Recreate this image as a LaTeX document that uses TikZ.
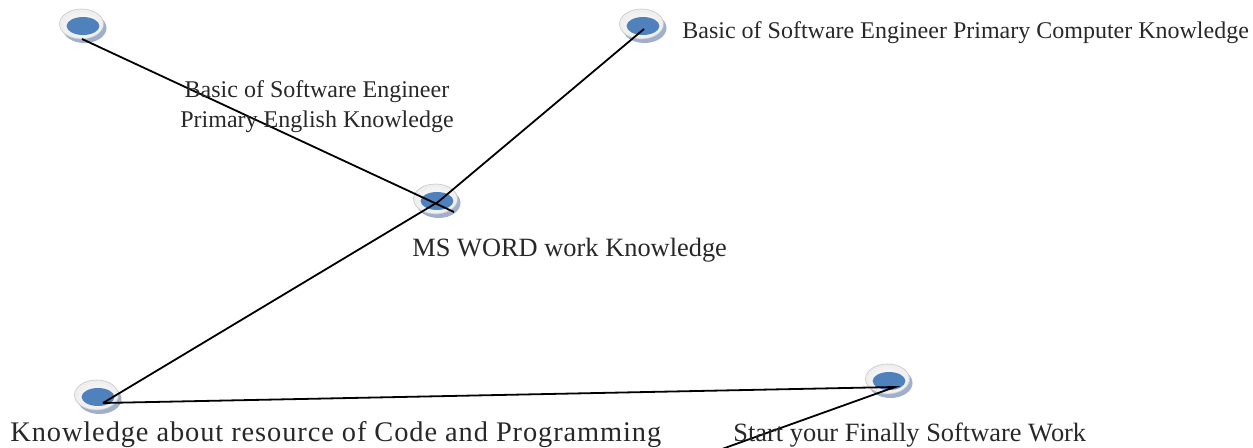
\documentclass[tikz,border=0pt]{standalone}
\usepackage{fontspec}
\setmainfont{Liberation Serif}
\newfontfamily\widefont[LetterSpace=3.2]{Liberation Serif}
\usetikzlibrary{shapes.geometric,shadows}

\definecolor{discblue}{RGB}{79,129,189}
\definecolor{discshadow}{RGB}{160,176,204}
\definecolor{discrim}{RGB}{200,200,204}
\definecolor{labeltext}{RGB}{40,40,40}

\begin{document}
\begin{tikzpicture}[x=0.5pt, y=-0.5pt,
  disc/.style={ellipse, minimum width=22pt, minimum height=15pt, inner sep=0pt,
    draw=discrim, line width=0.3pt, inner color=white, outer color=gray!14,
    drop shadow={shadow xshift=1.5pt, shadow yshift=-2pt, fill=discshadow, opacity=1},
    path picture={\fill[discblue] ([shift={(1.5,2)}]path picture bounding box.center)
      ellipse [x radius=8.2pt, y radius=4.5pt];}},
  link/.style={line width=0.9pt, black},
  big/.style={font=\fontsize{13.2}{16}\selectfont, text=labeltext, inner sep=0pt},
  small/.style={font=\fontsize{12}{15}\selectfont, text=labeltext, inner sep=0pt}]

  % --- 枠 ---
  \useasboundingbox (0,0) rectangle (1253,448);

  % 1. マーカー
  \node[disc] (m1) at (81.5,24) {};
  \node[disc] (m2) at (435.5,199) {};
  \node[disc] (m3) at (641.5,24) {};
  \node[disc] (m4) at (96.5,395) {};
  \node[disc] (m5) at (887.5,379) {};
  \coordinate (tail) at (722,449);

  % 2. 接続線
  \draw[link] ([shift={(0.5,15)}]m1.center) -- ([shift={(18.5,13)}]m2.center);
  \draw[link] ([shift={(6.5,8)}]m4.center) -- ([shift={(2.5,3)}]m2.center)
    -- ([shift={(2.5,5)}]m3.center);
  \draw[link] ([shift={(6.5,8)}]m4.center) -- ([shift={(7.5,8)}]m5.center) -- (tail);

  % 3. ラベル
  \node[small, anchor=base west] (t3) at (682,39)
    {Basic of Software Engineer Primary Computer Knowledge};
  \node[small, align=center] (t1) at (317,107)
    {Basic of Software Engineer\\Primary English Knowledge};
  \node[big, anchor=base west] (t2) at (412,257) {MS WORD work Knowledge};
  \node[big, font=\widefont\fontsize{14.2}{17}\selectfont, anchor=base west] (t4) at (10,442)
    {Knowledge about resource of Code and Programming};
  \node[big, anchor=base west] (t5) at (733,442) {Start your Finally Software Work};

\end{tikzpicture}
\end{document}
